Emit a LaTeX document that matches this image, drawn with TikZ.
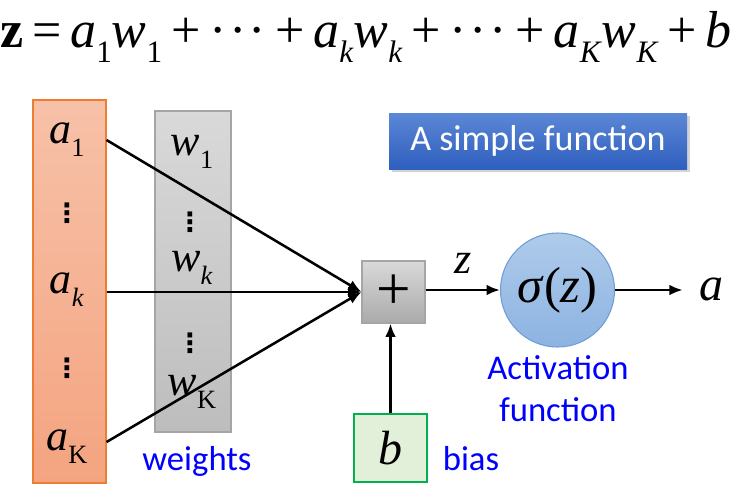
\documentclass[tikz,border=0pt]{standalone}
\usepackage{graphicx}
\usepackage{fontspec}
\setmainfont{Liberation Serif}
\newfontfamily\carl{Carlito}
\newfontfamily\djv{DejaVu Sans}
\usetikzlibrary{arrows.meta,shadows}
\newcommand\sbs[1]{\raisebox{-0.3em}{\scalebox{0.6}{#1}}}
\newcommand\mi[1]{\textit{#1}}
\newcommand\op[1]{\hspace{0.17em}#1\hspace{0.17em}}
\newcommand\mdots{\textperiodcentered\hspace{0.05em}\textperiodcentered\hspace{0.05em}\textperiodcentered}
\definecolor{orTop}{HTML}{F7C1A8}
\definecolor{orBot}{HTML}{F4A480}
\definecolor{orBrd}{HTML}{ED7D31}
\definecolor{grTop}{HTML}{D9D9D9}
\definecolor{grBot}{HTML}{BDBDBD}
\definecolor{grBrd}{HTML}{A5A5A5}
\definecolor{ciTop}{HTML}{AECBEA}
\definecolor{ciBot}{HTML}{8DB3E2}
\definecolor{ciBrd}{HTML}{6E9ED4}
\definecolor{bFill}{HTML}{E2F0D9}
\definecolor{bBrd}{HTML}{00B050}
\definecolor{tiTop}{HTML}{5B87D5}
\definecolor{tiBot}{HTML}{2F5FBF}
\begin{document}
\begin{tikzpicture}[x=0.75pt,y=-0.75pt,
  sym/.style={font=\fontsize{33}{36}\selectfont, inner sep=0pt},
  vdt/.style={font=\djv\bfseries\fontsize{20}{24}\selectfont, inner sep=0pt},
  lbl/.style={font=\carl\fontsize{26}{30}\selectfont, text=blue, inner sep=0pt},
  arr/.style={-{Latex[length=10pt,width=8pt]}, line width=1.9pt}]
\useasboundingbox (0,0) rectangle (748,497);

% equation
\node[font=\fontsize{39}{44}\selectfont, inner sep=0pt, anchor=base] (eq) at (366,47)
 {\textbf{z}\op{=}\mi{a}\sbs{1}\mi{w}\sbs{1}\op{+}\mdots\op{+}\mi{a}\sbs{\mi{k}}\mi{w}\sbs{\mi{k}}\op{+}\mdots\op{+}\mi{a}\sbs{\mi{K}}\mi{w}\sbs{\mi{K}}\op{+}\mi{b}};

% columns
\node[draw=orBrd, top color=orTop, bottom color=orBot, minimum width=54.75pt, minimum height=287.25pt, line width=0.8pt] (col) at (69.5,291.5) {};
\node[draw=grBrd, top color=grTop, bottom color=grBot, minimum width=57pt, minimum height=240.75pt, line width=0.8pt] (wcol) at (193,271.5) {};

\node[sym] (a1) at (67,140) {\mi{a}\sbs{1}};
\node[vdt] (d1) at (67,213) {⋮};
\node[sym] (ak) at (67,290) {\mi{a}\sbs{\mi{k}}};
\node[vdt] (d2) at (67,368) {⋮};
\node[sym] (aK) at (67,447) {\mi{a}\sbs{K}};

\node[sym] (w1) at (192,152) {\mi{w}\sbs{1}};
\node[vdt] (e1) at (190,222) {⋮};
\node[sym] (wk) at (192,268) {\mi{w}\sbs{\mi{k}}};
\node[vdt] (e2) at (190,343) {⋮};
\node[sym] (wK) at (192,392) {\mi{w}\sbs{K}};

% plus box
\node[draw=grBrd, top color=grTop, bottom color=grBot!90!black, minimum width=47.25pt, minimum height=46.5pt, inner sep=0pt, line width=0.8pt, font=\fontsize{46}{50}\selectfont] (plus) at (393.5,292) {+};

% activation circle
\node[circle, draw=ciBrd, top color=ciTop, bottom color=ciBot, minimum size=85.5pt, inner sep=0pt, line width=0.8pt, font=\fontsize{38}{42}\selectfont] (sig) at (557.5,290) {\mi{σ}(\mi{z})};

% bias box
\node[draw=bBrd, fill=bFill, minimum width=54.75pt, minimum height=51pt, line width=0.8pt, font=\fontsize{36}{40}\selectfont] (b) at (390.5,448) {\mi{b}};

% title
\node[draw=none, top color=tiTop, bottom color=tiBot, drop shadow={opacity=0.35, shadow xshift=2pt, shadow yshift=-2pt}, minimum width=223.5pt, minimum height=42pt, text=white, font=\carl\fontsize{27}{30}\selectfont] (title) at (538,141) {A simple function};

% output and labels
\node[sym, font=\fontsize{36}{40}\selectfont] (out) at (711,289) {\mi{a}};
\node[sym] (zl) at (463,263) {\mi{z}};
\node[lbl] (wl) at (197,461) {weights};
\node[lbl] (bl) at (471,459) {bias};
\node[lbl] (act1) at (558,368) {Activation};
\node[lbl] (act2) at (558,410) {function};

% connectors
\draw[arr] (col.east |- a1) -- (plus.west);
\draw[arr] (col.east |- plus.west) -- (plus.west);
\draw[arr] (col.east |- aK) ++(0,-5) -- (plus.west);
\draw[arr] (plus.east |- sig.west) -- (sig.west);
\draw[arr, shorten >=12pt] (sig.east) -- (sig.east -| out.west);
\draw[arr] (b.north) -- (b.north |- plus.south);
\end{tikzpicture}
\end{document}
